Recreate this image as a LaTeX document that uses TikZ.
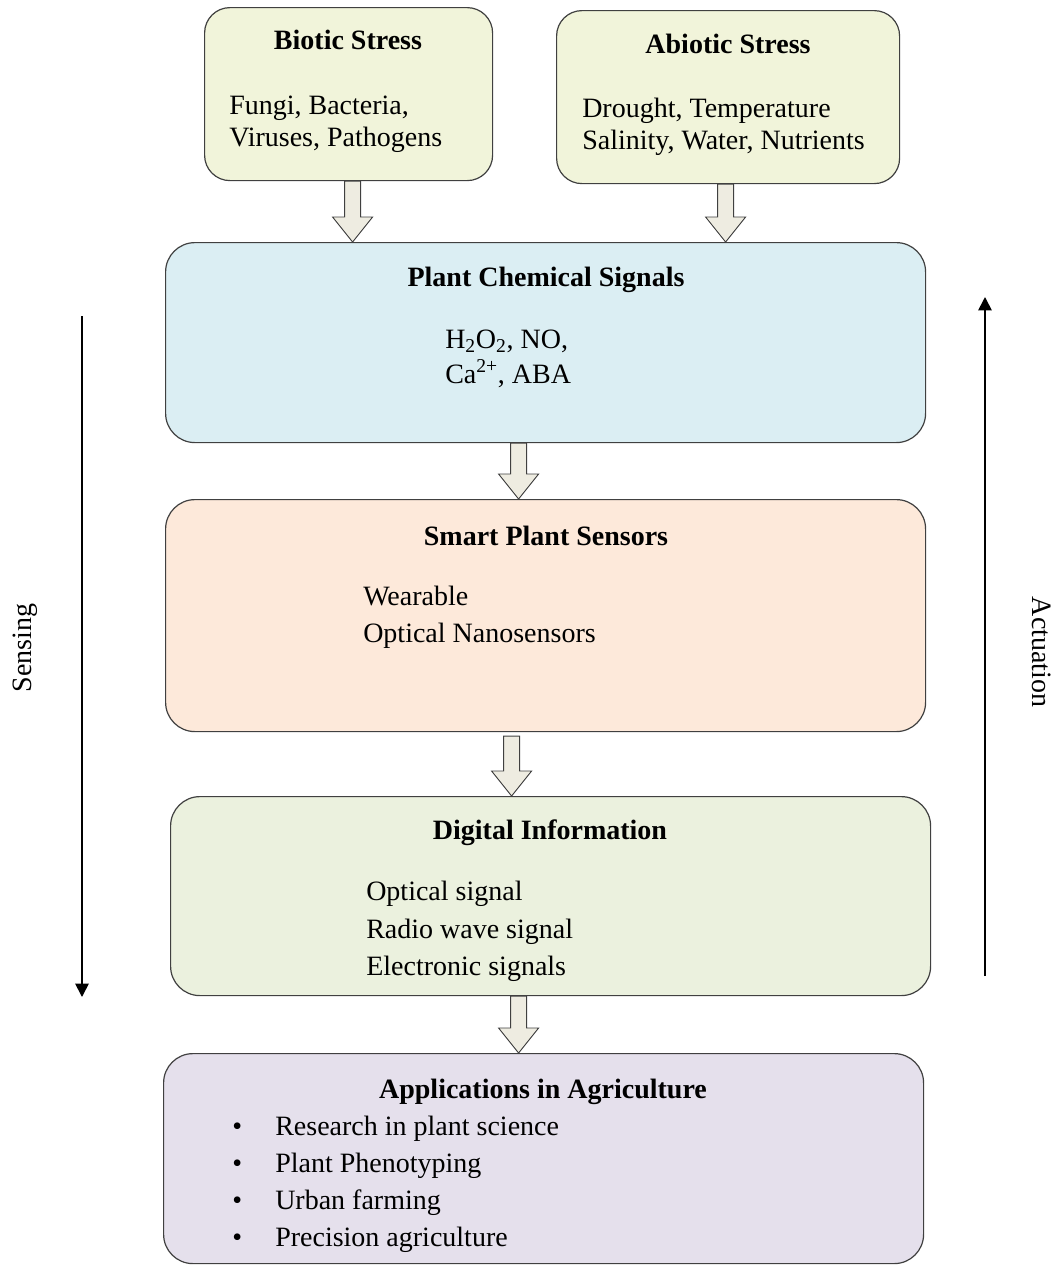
\documentclass[tikz,border=0pt]{standalone}
\usepackage{fontspec}
\setmainfont{Liberation Serif}
\usetikzlibrary{calc,arrows.meta}

\definecolor{stressfill}{HTML}{F1F4DA}
\definecolor{chemfill}{HTML}{DBEEF3}
\definecolor{sensfill}{HTML}{FDE9DA}
\definecolor{digifill}{HTML}{EBF1DE}
\definecolor{appfill}{HTML}{E5E0EC}
\definecolor{arrowfill}{HTML}{EEECE1}
\definecolor{edge}{HTML}{404040}

\tikzset{
  box/.style={draw=edge, line width=0.9pt, rounded corners=22pt, anchor=north west,
              inner sep=0pt, rectangle},
  smallbox/.style={box, rounded corners=19pt},
  head/.style={font=\bfseries\fontsize{21}{24}\selectfont, anchor=base, inner sep=0pt},
  body/.style={font=\fontsize{21}{24}\selectfont, anchor=base west, inner sep=0pt},
  barrow/.style={draw=edge, line width=0.7pt, fill=arrowfill, line join=miter},
  flow/.style={line width=1.3pt, -{Triangle[length=10pt,width=10pt]}},
  side/.style={font=\fontsize{21}{24}\selectfont, inner sep=0pt}
}

% block arrow from a point straight down to the top of a node
\newcommand\blockarrow[2]{%
  \path (#1) coordinate (ba-s);
  \path (ba-s |- #2.north) coordinate (ba-t);
  \draw[barrow] ($(ba-s)+(-8,0)$) -- ($(ba-t)+(-8,-25)$) -- ($(ba-t)+(-20,-25)$)
    -- (ba-t) -- ($(ba-t)+(20,-25)$) -- ($(ba-t)+(8,-25)$) -- ($(ba-s)+(8,0)$) -- cycle;}

\begin{document}
\begin{tikzpicture}[x=0.75pt, y=-0.75pt]
\useasboundingbox (0,0) rectangle (1061,1265);

% stress boxes
\node[smallbox, fill=stressfill, minimum width=216pt, minimum height=129.75pt] (bio) at (204,7) {};
\node[smallbox, fill=stressfill, minimum width=257.25pt, minimum height=129.75pt] (abio) at (556,10) {};

% main chain
\node[box, fill=chemfill, minimum width=570pt, minimum height=150pt] (pcs) at (165,242) {};
\node[box, fill=sensfill, minimum width=570pt, minimum height=174pt] (sps) at (165,499) {};
\node[box, fill=digifill, minimum width=570pt, minimum height=149.25pt] (dig) at (170,796) {};
\node[box, fill=appfill, minimum width=570pt, minimum height=157.5pt] (app) at (163,1053) {};

% block arrows
\blockarrow{$(bio.south)+(4,0)$}{pcs}
\blockarrow{$(abio.south)+(-2.5,0)$}{pcs}
\blockarrow{$(pcs.south)+(-27,0)$}{sps}
\blockarrow{$(sps.south)+(-34,4)$}{dig}
\blockarrow{$(dig.south)+(-32,0)$}{app}

% texts
\node[head] (bioh) at (348,49) {Biotic Stress};
\node[body] (bio1) at (229,114) {Fungi, Bacteria,};
\node[body] (bio2) at (229,146) {Viruses, Pathogens};

\node[head] (abioh) at (728,53) {Abiotic Stress};
\node[body] (abio1) at (582,117) {Drought, Temperature};
\node[body] (abio2) at (582,149) {Salinity, Water, Nutrients};

\node[head] (pcsh) at (546,286) {Plant Chemical Signals};
\node[body] (pcs1) at (445,348) {H\textsubscript{2}O\textsubscript{2}, NO,};
\node[body] (pcs2) at (445,383) {Ca\textsuperscript{2+}, ABA};

\node[head] (spsh) at (546,545) {Smart Plant Sensors};
\node[body] (sps1) at (363,605) {Wearable};
\node[body] (sps2) at (363,642) {Optical Nanosensors};

\node[head] (digh) at (550,839) {Digital Information};
\node[body] (dig1) at (366,900) {Optical signal};
\node[body] (dig2) at (366,938) {Radio wave signal};
\node[body] (dig3) at (366,975) {Electronic signals};

\node[head] (apph) at (543,1098) {Applications in Agriculture};
\node[body] (b1) at (232,1135) {\textbullet};
\node[body] (app1) at (275,1135) {Research in plant science};
\node[body] (b2) at (232,1172) {\textbullet};
\node[body] (app2) at (275,1172) {Plant Phenotyping};
\node[body] (b3) at (232,1209) {\textbullet};
\node[body] (app3) at (275,1209) {Urban farming};
\node[body] (b4) at (232,1246) {\textbullet};
\node[body] (app4) at (275,1246) {Precision agriculture};

% side arrows
\coordinate (sense-top) at (82,316);
\coordinate (sense-end) at (82,997);
\draw[flow] (sense-top) -- (sense-end);
\node[side, rotate=90] (sense) at (25,648) {Sensing};

\coordinate (act-bot) at (985,976);
\coordinate (act-end) at (985,297);
\draw[flow] (act-bot) -- (act-end);
\node[side, rotate=-90] (act) at (1042,652) {Actuation};
\end{tikzpicture}
\end{document}
